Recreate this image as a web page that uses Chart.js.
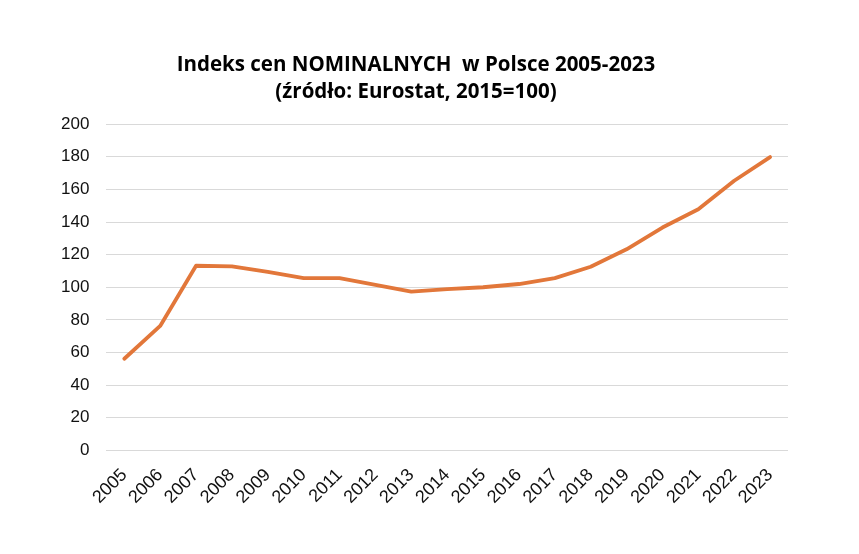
<!DOCTYPE html>
<html>
<head>
<meta charset="utf-8">
<script src="https://cdn.jsdelivr.net/npm/chart.js@4"></script>
<style>
html,body{margin:0;padding:0;background:#fff;}
#wrap{width:859px;height:554px;position:relative;}
</style>
</head>
<body>
<div id="wrap"><canvas id="c"></canvas></div>
<script>
const years = ["2005","2006","2007","2008","2009","2010","2011","2012","2013","2014","2015","2016","2017","2018","2019","2020","2021","2022","2023"];
const nominalIndex = [56.2, 76.3, 113.2, 112.8, 109.5, 105.6, 105.6, 101.5, 97.3, 98.8, 100, 102, 105.6, 112.6, 123.3, 136.6, 147.8, 165.3, 179.8];
const yTicks = [0, 20, 40, 60, 80, 100, 120, 140, 160, 180, 200];
const titleLines = ["Indeks cen NOMINALNYCH  w Polsce 2005-2023", "(źródło: Eurostat, 2015=100)"];

new Chart(document.getElementById('c'), {
  type: 'line',
  data: {
    labels: years,
    datasets: [{
      data: nominalIndex,
      borderColor: '#E2773A',
      backgroundColor: '#E2773A',
      borderWidth: 3.8,
      pointRadius: 0,
      tension: 0,
      borderCapStyle: 'round',
      borderJoinStyle: 'round'
    }]
  },
  options: {
    responsive: true,
    maintainAspectRatio: false,
    animation: false,
    devicePixelRatio: 1,
    layout: { padding: { left: 44, right: 71, top: 52, bottom: 32 } },
    plugins: {
      legend: { display: false },
      tooltip: { enabled: false },
      title: {
        display: true,
        text: titleLines,
        color: '#000',
        font: { family: 'Open Sans, Liberation Sans, sans-serif', size: 20.5, weight: 'bold', lineHeight: 1.32 },
        padding: { top: 0, bottom: 18 }
      }
    },
    scales: {
      x: {
        offset: true,
        grid: { display: false, drawTicks: false },
        border: { display: false },
        ticks: {
          color: '#111',
          font: { family: 'Liberation Sans, Arial, sans-serif', size: 18 },
          minRotation: 45,
          maxRotation: 45,
          autoSkip: false,
          padding: 14
        }
      },
      y: {
        min: 0,
        max: 200,
        afterBuildTicks: (axis) => { axis.ticks = yTicks.map(v => ({ value: v })); },
        grid: { color: '#d9d9d9', lineWidth: 1, drawTicks: false },
        border: { display: false },
        ticks: {
          color: '#111',
          font: { family: 'Liberation Sans, Arial, sans-serif', size: 17 },
          padding: 17
        }
      }
    }
  }
});
</script>
</body>
</html>
